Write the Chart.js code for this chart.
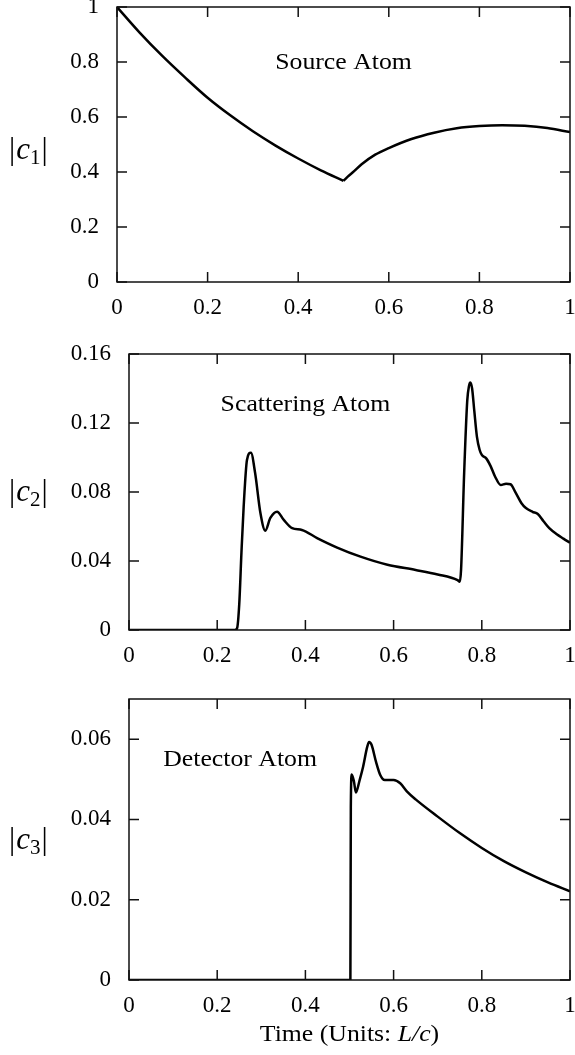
<!DOCTYPE html>
<html lang="en">
<head>
  <meta charset="UTF-8">
  <title>Atom amplitudes</title>
  <script src="https://cdn.jsdelivr.net/npm/chart.js"></script>
  <style>
    body { margin: 0; background: #fff; }
    .wrap { position: relative; width: 575px; height: 1055px; }
    canvas { position: absolute; left: 0; }
  </style>
</head>
<body>
  <div class="wrap">
    <canvas id="source" width="575" height="330" style="top:0"></canvas>
    <canvas id="scatter" width="575" height="335" style="top:340px"></canvas>
    <canvas id="detector" width="575" height="370" style="top:685px"></canvas>
  </div>

  <script>
  // --- data ---
  const timeTicks = [0, 0.2, 0.4, 0.6, 0.8, 1];

  const sourceTime = [0, 0.05, 0.1, 0.15, 0.2, 0.25, 0.3, 0.35, 0.4, 0.45, 0.5,
    0.51, 0.52, 0.54, 0.57, 0.6, 0.65, 0.7, 0.75, 0.8, 0.85, 0.9, 0.95, 1.0];
  const c1Values = [1, 0.907, 0.822, 0.744, 0.67, 0.606, 0.548, 0.496, 0.449, 0.406, 0.368,
    0.384, 0.398, 0.428, 0.463, 0.487, 0.52, 0.543, 0.559, 0.567, 0.57, 0.568, 0.56, 0.545];
  const c1Ticks = [0, 0.2, 0.4, 0.6, 0.8, 1];
  const c1Corner = 0.5; // the curve has a sharp corner here

  const scatterTime = [0, 0.2, 0.24, 0.245, 0.25, 0.255, 0.26, 0.2675, 0.2765, 0.286, 0.298,
    0.309, 0.3205, 0.3357, 0.351, 0.37, 0.392, 0.4265, 0.472, 0.525, 0.586, 0.65, 0.7,
    0.745, 0.75, 0.753, 0.76, 0.767, 0.771, 0.774, 0.778, 0.783, 0.789, 0.795, 0.8,
    0.81, 0.82, 0.83, 0.843, 0.855, 0.865, 0.877, 0.89, 0.9, 0.915, 0.927, 0.94,
    0.953, 0.97, 0.985, 1.0];
  const c2Values = [0, 0, 0, 0.001, 0.015, 0.045, 0.0715, 0.0986, 0.1028, 0.091, 0.0678,
    0.0576, 0.065, 0.0686, 0.0638, 0.059, 0.058, 0.0533, 0.0478, 0.0425, 0.0378, 0.0348, 0.0322,
    0.0289, 0.028, 0.035, 0.091, 0.133, 0.1415, 0.1435, 0.14, 0.127, 0.112, 0.1045, 0.1015,
    0.0995, 0.095, 0.089, 0.084, 0.0848, 0.0845, 0.0795, 0.0735, 0.0707, 0.0685, 0.0672, 0.063,
    0.059, 0.0555, 0.053, 0.0506];
  const c2Ticks = [0, 0.04, 0.08, 0.12, 0.16];

  const detectorTime = [0, 0.25, 0.5, 0.502, 0.503, 0.505, 0.51, 0.5145, 0.523, 0.531, 0.54,
    0.5444, 0.55, 0.56, 0.57, 0.58, 0.6, 0.615, 0.63, 0.65, 0.7, 0.75, 0.8, 0.85, 0.9, 0.95, 1.0];
  const c3Values = [0, 0, 0, 0, 0.043, 0.0512, 0.0495, 0.0467, 0.0498, 0.0532, 0.058,
    0.0593, 0.0586, 0.0544, 0.051, 0.0498, 0.0498, 0.049, 0.047, 0.045, 0.0407, 0.0366, 0.0329,
    0.0296, 0.0268, 0.0243, 0.0221];
  const c3Ticks = [0, 0.02, 0.04, 0.06];

  Chart.defaults.font.family = '"Liberation Serif", serif';
  Chart.defaults.color = '#000';

  // draw text stretched a bit wider, like the original typesetting
  function wideText(ctx, txt, x, y, sx) {
    ctx.save();
    ctx.translate(x, y);
    ctx.scale(sx, 1);
    ctx.fillText(txt, 0, 0);
    ctx.restore();
    return ctx.measureText(txt).width * sx;
  }

  // frame with inward ticks, panel note and |c_n| label
  const panelDecor = {
    id: 'panelDecor',
    afterDraw(chart, args, o) {
      const { ctx, chartArea: a, scales: { x, y } } = chart;
      const len = 10;
      ctx.save();
      ctx.strokeStyle = '#111';
      ctx.lineWidth = 1.5;
      ctx.strokeRect(a.left, a.top, a.right - a.left, a.bottom - a.top);
      ctx.beginPath();
      x.ticks.forEach(t => {
        const px = x.getPixelForValue(t.value);
        ctx.moveTo(px, a.bottom); ctx.lineTo(px, a.bottom - len);
        ctx.moveTo(px, a.top); ctx.lineTo(px, a.top + len);
      });
      y.ticks.forEach(t => {
        const py = y.getPixelForValue(t.value);
        ctx.moveTo(a.left, py); ctx.lineTo(a.left + len, py);
        ctx.moveTo(a.right, py); ctx.lineTo(a.right - len, py);
      });
      ctx.stroke();

      ctx.fillStyle = '#000';
      ctx.textBaseline = 'middle';
      ctx.textAlign = 'left';
      ctx.font = '23px "Liberation Serif"';
      const nw = ctx.measureText(o.note).width * 1.12;
      wideText(ctx, o.note, x.getPixelForValue(o.noteAt[0]) - nw / 2, y.getPixelForValue(o.noteAt[1]), 1.12);

      // |c_n|
      ctx.textBaseline = 'alphabetic';
      let lx = 9;
      const base = (a.top + a.bottom) / 2 + 9 + (o.labelShift || 0);
      const piece = (txt, font, dy) => {
        ctx.font = font;
        ctx.fillText(txt, lx, base + dy);
        lx += ctx.measureText(txt).width;
      };
      piece('|', '31px "Liberation Serif"', 0);
      lx += 1;
      piece('c', 'italic 31px "Liberation Serif"', 0);
      piece(o.sub, '21px "Liberation Serif"', 5);
      lx += 1;
      piece('|', '31px "Liberation Serif"', 0);

      if (o.xTitle) {
        const parts = [['Time (Units: ', '23px "Liberation Serif"'],
                       ['L/c', 'italic 23px "Liberation Serif"'],
                       [')', '23px "Liberation Serif"']];
        const sx = 1.12;
        let w = 0;
        parts.forEach(p => { ctx.font = p[1]; w += ctx.measureText(p[0]).width * sx; });
        let tx = (a.left + a.right) / 2 - w / 2;
        ctx.textBaseline = 'middle';
        parts.forEach(p => {
          ctx.font = p[1];
          tx += wideText(ctx, p[0], tx, a.bottom + 55, sx);
        });
      }
      ctx.restore();
    }
  };

  const fmt = v => String(Number(v.toFixed(2)));

  // split a series at a corner so each piece stays smooth but the corner stays sharp
  function pieces(times, values, corner) {
    const pts = times.map((t, i) => ({ x: t, y: values[i] }));
    if (corner === undefined) return [pts];
    const k = times.indexOf(corner);
    return [pts.slice(0, k + 1), pts.slice(k)];
  }

  function makePanel(id, times, values, yMax, yTicks, box, decor, corner) {
    new Chart(document.getElementById(id), {
      type: 'scatter',
      data: {
        datasets: pieces(times, values, corner).map(d => ({
          data: d,
          showLine: true,
          borderColor: '#000',
          borderWidth: 2.5,
          pointRadius: 0,
          cubicInterpolationMode: 'monotone'
        }))
      },
      options: {
        responsive: false,
        animation: false,
        events: [],
        layout: { padding: { left: 0, right: 575 - box.right, top: box.top, bottom: 0 } },
        plugins: { legend: { display: false }, tooltip: { enabled: false }, panelDecor: decor },
        scales: {
          x: {
            type: 'linear', min: 0, max: 1,
            grid: { display: false }, border: { display: false },
            afterBuildTicks: s => { s.ticks = timeTicks.map(v => ({ value: v })); },
            afterFit: s => { s.height = box.xHeight; s.paddingLeft = 0; s.paddingRight = 0; },
            ticks: { autoSkip: false, maxRotation: 0, padding: 4, font: { size: 23 }, callback: fmt }
          },
          y: {
            min: 0, max: yMax,
            grid: { display: false }, border: { display: false },
            afterBuildTicks: s => { s.ticks = yTicks.map(v => ({ value: v })); },
            afterFit: s => { s.width = box.left; s.paddingTop = 0; s.paddingBottom = 0; },
            ticks: { autoSkip: false, padding: 10, font: { size: 23 }, callback: fmt }
          }
        }
      },
      plugins: [panelDecor]
    });
  }

  makePanel('source', sourceTime, c1Values, 1, c1Ticks,
    { left: 117, right: 570, top: 7, xHeight: 48 },
    { note: 'Source Atom', noteAt: [0.5, 0.796], sub: '1', labelShift: 5 }, c1Corner);

  makePanel('scatter', scatterTime, c2Values, 0.16, c2Ticks,
    { left: 129, right: 570, top: 14, xHeight: 45 },
    { note: 'Scattering Atom', noteAt: [0.4, 0.1304], sub: '2' });

  makePanel('detector', detectorTime, c3Values, 0.07, c3Ticks,
    { left: 129, right: 570, top: 14, xHeight: 75 },
    { note: 'Detector Atom', noteAt: [0.252, 0.0548], sub: '3', xTitle: true });
  </script>
</body>
</html>
